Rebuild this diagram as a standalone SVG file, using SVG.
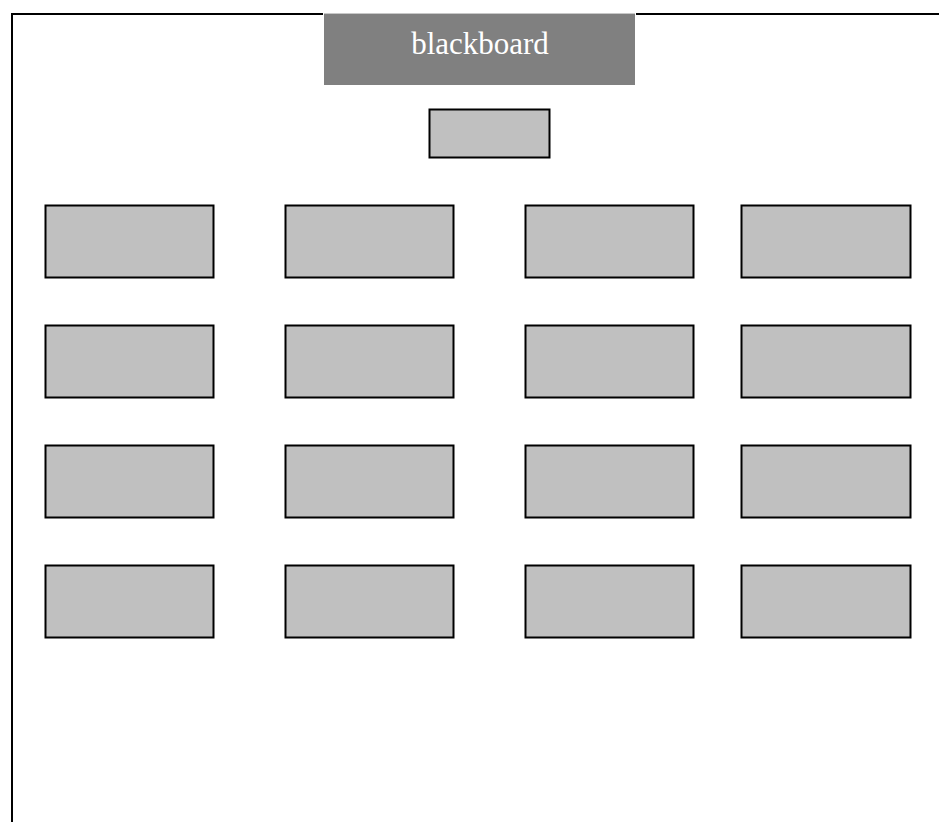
<svg xmlns="http://www.w3.org/2000/svg" width="939" height="822" viewBox="0 0 939 822">
<style>
.desk{fill:#c0c0c0;stroke:#000;stroke-width:2}
.wall{fill:none;stroke:#000;stroke-width:2}
.bbtext{font-family:"Liberation Serif",serif;font-size:31px;fill:#fff}
</style>
<rect width="939" height="822" fill="#fff"/>
<g id="walls">
<polyline class="wall" points="323,14 12,14 12,822"/>
<line class="wall" x1="636" y1="14" x2="939" y2="14"/>
</g>
<g id="blackboard">
<rect x="324" y="14" width="311" height="71" fill="#808080"/>
<line x1="324" y1="13.5" x2="635" y2="13.5" stroke="#c8c8c8" stroke-width="1"/>
<text class="bbtext" x="480" y="54" text-anchor="middle">blackboard</text>
</g>
<g id="teacher-desk"><rect class="desk" x="429.5" y="109.5" width="120" height="48"/></g>
<g id="desk-1-1"><rect class="desk" x="45.5" y="205.5" width="168" height="72"/></g>
<g id="desk-1-2"><rect class="desk" x="285.5" y="205.5" width="168" height="72"/></g>
<g id="desk-1-3"><rect class="desk" x="525.5" y="205.5" width="168" height="72"/></g>
<g id="desk-1-4"><rect class="desk" x="741.5" y="205.5" width="169" height="72"/></g>
<g id="desk-2-1"><rect class="desk" x="45.5" y="325.5" width="168" height="72"/></g>
<g id="desk-2-2"><rect class="desk" x="285.5" y="325.5" width="168" height="72"/></g>
<g id="desk-2-3"><rect class="desk" x="525.5" y="325.5" width="168" height="72"/></g>
<g id="desk-2-4"><rect class="desk" x="741.5" y="325.5" width="169" height="72"/></g>
<g id="desk-3-1"><rect class="desk" x="45.5" y="445.5" width="168" height="72"/></g>
<g id="desk-3-2"><rect class="desk" x="285.5" y="445.5" width="168" height="72"/></g>
<g id="desk-3-3"><rect class="desk" x="525.5" y="445.5" width="168" height="72"/></g>
<g id="desk-3-4"><rect class="desk" x="741.5" y="445.5" width="169" height="72"/></g>
<g id="desk-4-1"><rect class="desk" x="45.5" y="565.5" width="168" height="72"/></g>
<g id="desk-4-2"><rect class="desk" x="285.5" y="565.5" width="168" height="72"/></g>
<g id="desk-4-3"><rect class="desk" x="525.5" y="565.5" width="168" height="72"/></g>
<g id="desk-4-4"><rect class="desk" x="741.5" y="565.5" width="169" height="72"/></g>
<g id="connectors"></g>
</svg>
